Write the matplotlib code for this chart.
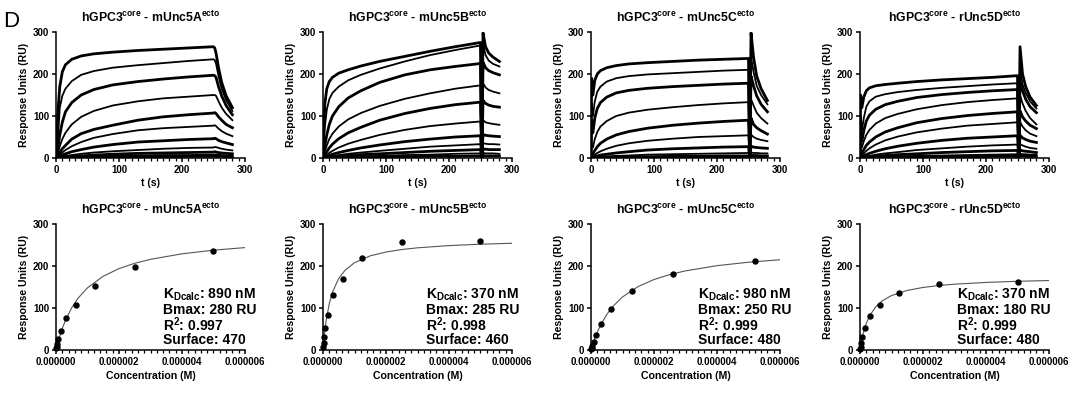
import matplotlib
matplotlib.use('Agg')
import matplotlib.pyplot as plt
from matplotlib.ticker import MultipleLocator, FuncFormatter

plt.rcParams.update({
    'font.family': 'Liberation Sans',
    'font.weight': 'bold',
    'axes.labelweight': 'bold',
    'axes.titleweight': 'bold',
    'mathtext.fontset': 'custom',
    'mathtext.rm': 'Liberation Sans:bold',
    'mathtext.bf': 'Liberation Sans:bold',
    'mathtext.default': 'bf',
    'axes.spines.top': False,
    'axes.spines.right': False,
    'axes.linewidth': 1.1,
    'xtick.major.width': 1.1,
    'ytick.major.width': 1.1,
    'xtick.minor.width': 0.9,
    'xtick.major.size': 3,
    'ytick.major.size': 3,
    'xtick.minor.size': 1.8,
    'xtick.labelsize': 7,
    'ytick.labelsize': 7,
    'axes.labelsize': 7.6,
})

targets = ['mUnc5A', 'mUnc5B', 'mUnc5C', 'rUnc5D']

# sensorgram time points (s): association to 250 s, then dissociation
t_sens = [0, 1, 3, 6, 10, 15, 25, 40, 60, 90, 130, 170, 210, 250,
          252, 254, 258, 263, 270, 280]

sens_A = [
    [0, 40, 110, 170, 205, 222, 235, 243, 248, 252, 256, 259, 262, 265, 262, 250, 215, 180, 148, 120],
    [0, 15, 45, 120, 148, 165, 183, 198, 207, 215, 221, 226, 231, 235, 233, 225, 195, 165, 138, 112],
    [0, 8, 25, 55, 85, 110, 132, 150, 163, 174, 182, 188, 193, 197, 196, 192, 170, 148, 125, 103],
    [0, 4, 12, 28, 45, 60, 80, 98, 112, 125, 135, 142, 146, 150, 150, 148, 135, 120, 105, 90],
    [0, 2, 6, 13, 22, 30, 45, 58, 68, 78, 90, 98, 103, 107, 108, 106, 98, 90, 80, 72],
    [0, 1, 4, 8, 13, 19, 28, 38, 48, 57, 66, 71, 74, 77, 78, 76, 70, 64, 58, 52],
    [0, 1, 2, 4, 7, 10, 15, 20, 26, 32, 38, 41, 44, 46, 47, 46, 42, 39, 36, 32],
    [0, 0, 1, 2, 3, 5, 7, 10, 13, 16, 19, 22, 24, 25, 26, 26, 24, 22, 20, 18],
    [0, 0, 0, 1, 2, 2, 4, 5, 7, 9, 11, 12, 13, 14, 15, 14, 13, 12, 11, 10],
    [0, 0, 0, 0, 1, 1, 2, 3, 4, 5, 6, 7, 7, 8, 8, 8, 8, 7, 6, 6],
    [0, 0, 0, 0, 0, 1, 1, 1, 2, 2, 3, 3, 4, 4, 4, 4, 4, 4, 3, 3],
]
sens_B = [
    [0, 60, 130, 165, 182, 192, 202, 210, 219, 230, 242, 254, 265, 275, 0, 298, 265, 250, 240, 230],
    [0, 30, 75, 115, 140, 155, 170, 185, 198, 213, 230, 245, 257, 268, 0, 270, 245, 232, 224, 218],
    [0, 10, 30, 55, 80, 100, 122, 143, 160, 180, 198, 210, 218, 225, 0, 228, 215, 208, 203, 198],
    [0, 5, 15, 30, 45, 58, 75, 92, 107, 124, 141, 154, 165, 173, 0, 178, 168, 162, 158, 154],
    [0, 2, 7, 15, 24, 33, 46, 60, 73, 90, 106, 118, 127, 133, 0, 137, 130, 126, 123, 121],
    [0, 1, 3, 7, 12, 17, 25, 34, 43, 55, 67, 76, 82, 87, 0, 90, 85, 83, 81, 79],
    [0, 0, 2, 4, 6, 9, 13, 18, 24, 31, 39, 45, 50, 53, 0, 56, 54, 53, 52, 51],
    [0, 0, 1, 2, 3, 5, 7, 10, 13, 17, 22, 27, 30, 33, 0, 35, 34, 33, 33, 32],
    [0, 0, 0, 1, 2, 3, 4, 6, 8, 10, 13, 16, 18, 20, 0, 21, 21, 20, 20, 20],
    [0, 0, 0, 0, 1, 1, 2, 3, 4, 5, 7, 8, 10, 11, 0, 12, 11, 11, 11, 10],
    [0, 0, 0, 0, 0, 0, 1, 1, 2, 2, 3, 4, 4, 5, 0, 6, 5, 5, 5, 5],
]
sens_C = [
    [0, 190, 150, 185, 200, 208, 215, 220, 224, 227, 230, 233, 235, 237, 0, 298, 240, 195, 165, 137],
    [0, 130, 100, 135, 158, 170, 182, 190, 195, 199, 202, 205, 208, 210, 0, 240, 205, 172, 150, 128],
    [0, 90, 60, 95, 118, 132, 145, 155, 161, 166, 170, 173, 176, 178, 0, 195, 172, 148, 128, 110],
    [0, 30, 25, 45, 62, 75, 88, 100, 108, 115, 121, 126, 130, 133, 0, 140, 125, 108, 95, 82],
    [0, 10, 10, 18, 27, 35, 45, 55, 63, 71, 78, 83, 87, 90, 0, 95, 80, 72, 65, 57],
    [0, 3, 4, 8, 12, 16, 22, 29, 35, 41, 46, 50, 52, 54, 0, 56, 50, 46, 43, 40],
    [0, 1, 1, 3, 5, 7, 9, 12, 15, 19, 22, 24, 26, 27, 0, 28, 26, 25, 24, 23],
    [0, 0, 0, 1, 2, 3, 4, 5, 6, 8, 9, 10, 11, 12, 0, 13, 12, 12, 11, 11],
    [0, 0, 0, 0, 1, 1, 1, 2, 3, 3, 4, 4, 5, 5, 0, 6, 6, 6, 5, 5],
    [0, 0, 0, 0, 0, 0, 0, 1, 1, 1, 1, 2, 2, 2, 0, 3, 3, 3, 2, 2],
]
sens_D = [
    [0, 150, 120, 145, 160, 167, 172, 175, 178, 182, 186, 189, 192, 196, 0, 265, 200, 170, 145, 125],
    [0, 100, 65, 95, 122, 135, 146, 152, 157, 162, 167, 171, 175, 178, 0, 210, 175, 155, 135, 118],
    [0, 60, 40, 65, 88, 102, 116, 127, 135, 144, 151, 156, 160, 163, 0, 180, 160, 140, 122, 108],
    [0, 35, 25, 40, 55, 67, 82, 95, 105, 116, 126, 133, 138, 142, 0, 150, 130, 112, 95, 80],
    [0, 15, 12, 20, 30, 38, 50, 62, 72, 84, 94, 101, 106, 110, 0, 112, 98, 88, 78, 70],
    [0, 8, 6, 11, 17, 23, 32, 42, 51, 61, 70, 77, 81, 85, 0, 86, 75, 66, 58, 52],
    [0, 3, 3, 5, 8, 11, 16, 22, 28, 35, 42, 47, 50, 53, 0, 54, 48, 44, 40, 37],
    [0, 1, 1, 2, 4, 5, 8, 11, 14, 19, 23, 27, 30, 32, 0, 33, 30, 27, 24, 22],
    [0, 0, 0, 1, 2, 3, 4, 6, 8, 10, 13, 15, 17, 18, 0, 19, 17, 16, 15, 13],
    [0, 0, 0, 0, 1, 1, 2, 3, 4, 5, 6, 7, 8, 9, 0, 10, 9, 9, 8, 8],
    [0, 0, 0, 0, 0, 1, 1, 1, 2, 2, 3, 3, 4, 4, 0, 5, 5, 4, 4, 4],
]

# steady-state binding (M, RU)
conc_std = [5e-6, 2.5e-6, 1.25e-6, 6.25e-7, 3.125e-7, 1.56e-7, 7.8e-8, 3.9e-8, 1.95e-8, 9.8e-9]
conc_C = [5.2e-6, 2.6e-6, 1.3e-6, 6.5e-7, 3.25e-7, 1.63e-7, 8.1e-8, 4.1e-8, 2.0e-8, 1.0e-8]
resp_A = [236, 198, 152, 107, 77, 46, 26, 14, 8, 4]
resp_B = [260, 257, 219, 168, 130, 84, 53, 32, 16, 8]
resp_C = [211, 182, 140, 98, 62, 36, 20, 10, 5, 2]
resp_D = [162, 156, 136, 107, 82, 52, 30, 16, 8, 3]

# fitted curves
fit_x = [0, 0.05e-6, 0.1e-6, 0.2e-6, 0.3e-6, 0.5e-6, 0.7e-6, 1.0e-6, 1.5e-6,
         2.0e-6, 2.5e-6, 3.0e-6, 4.0e-6, 5.0e-6, 6.0e-6]
fit_A = [0, 14.9, 28.3, 51.4, 70.6, 100.7, 123.3, 148.1, 175.7, 193.8, 206.5, 215.9, 229.0, 237.7, 243.8]
fit_B = [0, 40.3, 70.0, 110.8, 137.6, 170.5, 190.0, 207.8, 224.2, 233.3, 239.2, 243.3, 248.6, 251.9, 254.1]
fit_C = [0, 12.1, 23.1, 42.4, 58.6, 84.5, 104.2, 126.3, 151.2, 167.8, 179.6, 188.4, 200.8, 209.0, 214.9]
fit_D = [0, 21.9, 38.9, 63.6, 80.8, 102.9, 116.7, 129.6, 141.9, 148.9, 153.5, 156.7, 160.9, 163.6, 165.4]

kd_vals = ['890 nM', '370 nM', '980 nM', '370 nM']
bmax_vals = ['280 RU', '285 RU', '250 RU', '180 RU']
r2_vals = ['0.997', '0.998', '0.999', '0.999']
surface_vals = ['470', '460', '480', '480']

sens_all = [sens_A, sens_B, sens_C, sens_D]
conc_all = [conc_std, conc_std, conc_C, conc_std]
resp_all = [resp_A, resp_B, resp_C, resp_D]
fit_all = [fit_A, fit_B, fit_C, fit_D]

W, H = 1080, 396
fig = plt.figure(figsize=(W / 100, H / 100), dpi=100)

lefts = [56, 323, 591, 860]
ax_w = 189
stat_x = [0.565, 0.547, 0.568, 0.513]


def style_axis(ax):
    ax.set_ylim(0, 300)
    ax.yaxis.set_major_locator(MultipleLocator(100))
    ax.tick_params(direction='out', pad=2)
    ax.tick_params(which='minor', direction='out')


for i in range(4):
    title = r'hGPC3$^{core}$ - ' + targets[i] + r'$^{ecto}$'

    # sensorgrams
    ax = fig.add_axes([lefts[i] / W, 1 - 158 / H, ax_w / W, 126 / H])
    for k, row in enumerate(sens_all[i]):
        ax.plot(t_sens, row, color='black', lw=2.0 if k % 2 == 0 else 1.3,
                solid_joinstyle='round')
    ax.set_xlim(0, 300)
    style_axis(ax)
    ax.xaxis.set_major_locator(MultipleLocator(100))
    ax.xaxis.set_minor_locator(MultipleLocator(10))
    ax.set_xlabel('t (s)', labelpad=2)
    ax.set_ylabel('Response Units (RU)', labelpad=3)
    ax.set_title(title, fontsize=8.8, pad=7)

    # steady-state fits
    ax2 = fig.add_axes([lefts[i] / W, 1 - 350 / H, ax_w / W, 126 / H])
    ax2.plot(fit_x, fit_all[i], color='#555555', lw=0.8)
    ax2.plot(conc_all[i], resp_all[i], 'o', color='black', ms=3.6,
             clip_on=False, zorder=5)
    ax2.set_xlim(0, 6e-6)
    style_axis(ax2)
    ax2.xaxis.set_major_locator(MultipleLocator(2e-6))
    ax2.xaxis.set_minor_locator(MultipleLocator(2e-7))
    ax2.xaxis.set_major_formatter(FuncFormatter(lambda v, p: f'{v:.6f}'))
    ax2.set_xlabel('Concentration (M)', labelpad=3)
    ax2.set_ylabel('Response Units (RU)', labelpad=3)
    ax2.set_title(title, fontsize=8.8, pad=7)

    lines = [r'K$_{Dcalc}$: ' + kd_vals[i], 'Bmax: ' + bmax_vals[i],
             r'R$^{2}$: ' + r2_vals[i], 'Surface: ' + surface_vals[i]]
    for j, s in enumerate(lines):
        ax2.text(stat_x[i], 0.437 - 0.119 * j, s, transform=ax2.transAxes,
                 fontsize=10, va='center', ha='left')

fig.text(0.003, 0.972, 'D', fontsize=16, fontweight='normal', va='top', ha='left')

fig.savefig('out.png', dpi=100)
plt.close()
